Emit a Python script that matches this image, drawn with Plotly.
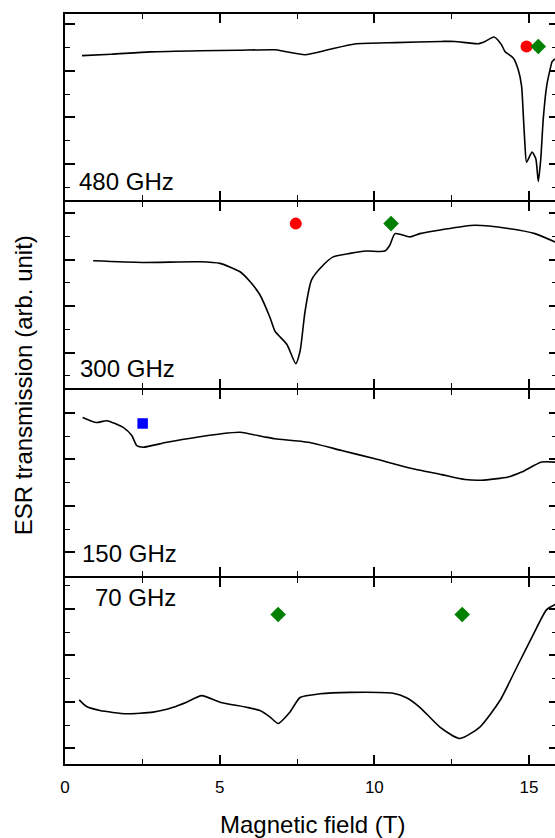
import plotly.graph_objects as go

# ---------------- data (field in T, transmission in arb. units) ----------------
f480_x = [0.55, 1.5, 2.75, 4.36, 5.6, 6.79, 7.11, 7.76, 8.5, 9.37, 10.67, 12.18, 12.6, 13.35, 13.58,
          13.87, 14.11, 14.22, 14.49, 14.65, 14.76, 14.81, 14.87, 14.92, 15.10, 15.22, 15.30, 15.38,
          15.46, 15.57, 15.68, 15.75, 15.84]
f480_y = [5.66, 5.72, 5.82, 5.87, 5.89, 5.91, 5.84, 5.70, 5.91, 6.16, 6.22, 6.27, 6.27, 6.17, 6.27,
          6.46, 6.13, 5.84, 5.56, 5.06, 4.35, 3.23, 1.79, 1.08, 1.51, 1.22, 0.25, 1.22,
          2.93, 4.35, 5.06, 5.41, 5.52]

f300_x = [0.91, 2.5, 4.36, 5.01, 5.66, 5.98, 6.30, 6.63, 6.79, 7.17, 7.46, 7.60, 7.76, 7.97, 8.35,
          8.67, 9.21, 9.75, 10.34, 10.50, 10.67, 11.15, 11.47, 12.18, 13.25, 14.33, 15.19, 15.84]
f300_y = [4.95, 4.88, 4.91, 4.84, 4.48, 4.06, 3.49, 2.50, 1.92, 1.36, 0.53, 1.07, 2.78, 4.13, 4.77,
          5.12, 5.27, 5.37, 5.37, 5.62, 6.12, 5.98, 6.12, 6.29, 6.48, 6.34, 6.12, 5.76]

f150_x = [0.57, 1.02, 1.35, 1.88, 2.16, 2.32, 2.53, 3.29, 4.36, 5.01, 5.66, 6.41, 6.79, 7.86, 8.94,
          10.02, 11.10, 12.18, 12.93, 13.47, 14.33, 14.76, 15.41, 15.84]
f150_y = [6.80, 6.58, 6.66, 6.37, 6.02, 5.59, 5.52, 5.73, 5.97, 6.09, 6.16, 5.97, 5.88, 5.73, 5.38,
          5.02, 4.64, 4.34, 4.13, 4.10, 4.24, 4.45, 4.88, 4.88]

f70_x = [0.46, 0.70, 1.13, 1.99, 2.85, 3.50, 3.93, 4.42, 5.01, 5.87, 6.30, 6.63, 6.89, 7.27, 7.60,
         8.24, 9.21, 10.61, 11.04, 11.47, 12.12, 12.77, 13.41, 14.06, 14.60, 15.14, 15.57, 15.84]
f70_y = [3.09, 2.80, 2.63, 2.49, 2.56, 2.77, 2.99, 3.27, 2.99, 2.77, 2.63, 2.35, 2.07, 2.56, 3.19,
         3.35, 3.41, 3.37, 3.18, 2.77, 1.92, 1.43, 1.92, 3.06, 4.48, 5.91, 6.97, 7.19]

# resonance markers
red_x = {1: [14.92], 2: [7.46]}
red_y = {1: [6.05], 2: [6.55]}
green_x = {1: [15.30], 2: [10.54], 4: [6.89, 12.84]}
green_y = {1: [6.05], 2: [6.55], 4: [6.76, 6.76]}
blue_x = {3: [2.51]}
blue_y = {3: [6.54]}

panel_labels = ["480 GHz", "300 GHz", "150 GHz", "70 GHz"]
y_starts = [-0.55, -0.52, -0.02, 0.33]
curves = [(f480_x, f480_y), (f300_x, f300_y), (f150_x, f150_y), (f70_x, f70_y)]

X_MAX = 15.84
PANEL_H = 8.0

PLOT_PX = 750.0
GAP = 2.0 / PLOT_PX
H = (1 - 3 * GAP) / 4

fig = go.Figure()
layout = dict(
    width=555, height=838,
    margin=dict(l=65, r=0, t=14, b=74),
    paper_bgcolor="white", plot_bgcolor="white",
    showlegend=False,
    font=dict(family="Liberation Sans, Arial, sans-serif", color="black"),
)

for i in range(4):
    n = i + 1
    xa = f"x{n}" if n > 1 else "x"
    yl = 2 * n - 1
    yr = 2 * n
    top = 1 - i * (H + GAP)
    bot = max(0.0, top - H)
    cx, cy = curves[i]
    yref = f"y{yl}" if yl > 1 else "y"
    fig.add_trace(go.Scatter(x=cx, y=cy, mode="lines",
                             line=dict(color="black", width=1.6, shape="spline", smoothing=0.6),
                             xaxis=xa, yaxis=yref, hoverinfo="skip"))
    if n in red_x:
        fig.add_trace(go.Scatter(x=red_x[n], y=red_y[n], mode="markers",
                                 marker=dict(symbol="circle", size=12, color="#ff0000"),
                                 xaxis=xa, yaxis=yref))
    if n in green_x:
        fig.add_trace(go.Scatter(x=green_x[n], y=green_y[n], mode="markers",
                                 marker=dict(symbol="diamond", size=12, color="#008000"),
                                 xaxis=xa, yaxis=yref))
    if n in blue_x:
        fig.add_trace(go.Scatter(x=blue_x[n], y=blue_y[n], mode="markers",
                                 marker=dict(symbol="square", size=10.5, color="#0000ff"),
                                 xaxis=xa, yaxis=yref))
    # invisible trace to activate right-hand tick axis
    fig.add_trace(go.Scatter(x=[0], y=[y_starts[i]], mode="markers",
                             marker=dict(size=1, color="rgba(0,0,0,0)"),
                             xaxis=xa, yaxis=f"y{yr}", hoverinfo="skip"))

    xkey = "xaxis" if n == 1 else f"xaxis{n}"
    layout[xkey] = dict(
        domain=[0, 1], anchor=yref, range=[0, X_MAX],
        showline=True, linecolor="black", linewidth=2, mirror="ticks",
        ticks="inside", ticklen=9, tickwidth=1.6, tickcolor="black",
        tick0=0, dtick=5,
        minor=dict(ticks="inside", ticklen=5, tickwidth=1.4, tickcolor="black", dtick=2.5, tick0=0),
        showgrid=False, zeroline=False,
        showticklabels=(n == 4), tickfont=dict(size=17, color="black"),
        ticklabelstandoff=7,
    )
    if n > 1:
        layout[xkey]["matches"] = "x"
    ylkey = "yaxis" if yl == 1 else f"yaxis{yl}"
    yrng = [y_starts[i], y_starts[i] + PANEL_H]
    layout[ylkey] = dict(
        domain=[bot, top], anchor=xa, range=yrng,
        showline=True, linecolor="black", linewidth=2, mirror=False,
        ticks="inside", ticklen=10, tickwidth=1.6, tickcolor="black",
        tick0=1, dtick=2,
        minor=dict(ticks="inside", ticklen=5, tickwidth=1.4, tickcolor="black", dtick=1, tick0=0),
        showgrid=False, zeroline=False, showticklabels=False,
    )
    layout[f"yaxis{yr}"] = dict(
        domain=[bot, top], anchor=xa, overlaying=yref, side="right", range=yrng,
        showline=False,
        ticks="inside", ticklen=6, tickwidth=1.6, tickcolor="black",
        tick0=1, dtick=2,
        minor=dict(ticks="inside", ticklen=3, tickwidth=1.4, tickcolor="black", dtick=1, tick0=0),
        showgrid=False, zeroline=False, showticklabels=False,
    )

fig.update_layout(**layout)

label_pos = [(0.0245, 0.777), (0.0265, 0.527), (0.0306, 0.281), (0.057, 0.222)]
for (lx, ly), txt in zip(label_pos, panel_labels):
    fig.add_annotation(text=txt, xref="paper", yref="paper", x=lx, y=ly,
                       xanchor="left", yanchor="middle", showarrow=False,
                       font=dict(size=24, color="black"))

fig.add_annotation(text="Magnetic field (T)", xref="paper", yref="paper", x=0.506, y=-0.08,
                   xanchor="center", yanchor="middle", showarrow=False,
                   font=dict(size=24, color="black"))
fig.add_annotation(text="ESR transmission (arb. unit)", xref="paper", yref="paper", x=-0.0857, y=0.505,
                   xanchor="center", yanchor="middle", textangle=-90, showarrow=False,
                   font=dict(size=24, color="black"))

fig.write_html("out.html")
